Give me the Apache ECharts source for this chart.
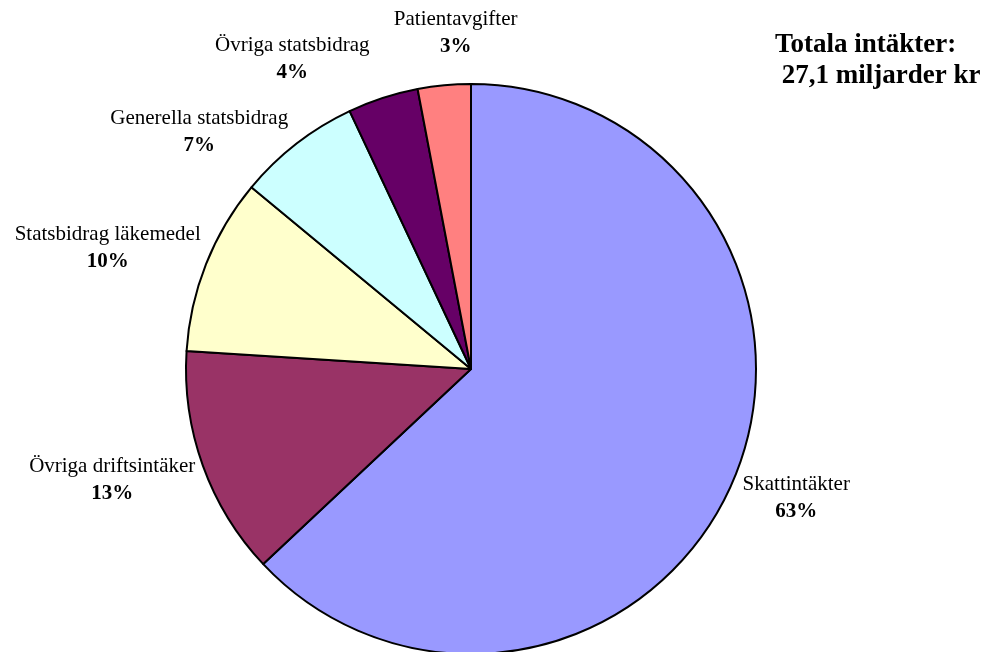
<!DOCTYPE html>
<html>
<head>
<meta charset="utf-8">
<script src="https://cdn.jsdelivr.net/npm/echarts@6/dist/echarts.min.js"></script>
<style>
  html, body { margin: 0; padding: 0; background: #fff; }
  #main { width: 984px; height: 652px; }
</style>
</head>
<body>
<div id="main"></div>
<script>
// intäkter, andel i procent (medurs från kl. 12)
const categories = ['Skattintäkter', 'Övriga driftsintäker', 'Statsbidrag läkemedel',
    'Generella statsbidrag', 'Övriga statsbidrag', 'Patientavgifter'];
const shares = [63, 13, 10, 7, 4, 3];
const colors = ['#9999FF', '#993366', '#FFFFCC', '#CCFFFF', '#660066', '#FF8080'];
// avstånd från cirkeln till etiketten, plus små justeringar
const labelGap = [12, 8, 10, 15, 40, 48];
const labelNudge = [[-6, 11], [5, 12], [9, -12], [6, 0], [4, -1], [21, -4]];

const font = '"Liberation Serif", "Times New Roman", serif';

const chart = echarts.init(document.getElementById('main'));
chart.setOption({
    animation: false,
    title: {
        text: 'Totala intäkter:\n 27,1 miljarder kr',
        left: 770,
        top: 25,
        textStyle: {
            fontFamily: font,
            fontSize: 27,
            fontWeight: 'bold',
            color: '#000',
            lineHeight: 31
        }
    },
    series: [{
        type: 'pie',
        center: [471, 369],
        radius: 285,
        startAngle: 90,
        clockwise: true,
        avoidLabelOverlap: false,
        data: categories.map((c, i) => ({
            name: c,
            value: shares[i],
            itemStyle: {color: colors[i]},
            labelLine: {length: labelGap[i]}
        })),
        itemStyle: {
            borderColor: '#000',
            borderWidth: 2
        },
        label: {
            show: true,
            position: 'outside',
            formatter: (p) => '{a|' + p.name + '}\n{b|' + p.value + '%}',
            rich: {
                a: {fontFamily: font, fontSize: 21, color: '#000', align: 'center', lineHeight: 27},
                b: {fontFamily: font, fontSize: 21, fontWeight: 'bold', color: '#000', align: 'center', lineHeight: 27}
            }
        },
        labelLine: {
            show: false,
            length: 10,
            length2: 0
        },
        labelLayout: function (params) {
            const n = labelNudge[params.dataIndex];
            const out = {dx: n[0], dy: n[1]};
            // den minsta skivan har etiketten centrerad ovanför
            if (params.dataIndex === 5) {
                out.align = 'center';
            }
            return out;
        },
        emphasis: {disabled: true}
    }]
});
window.addEventListener('resize', function () {
    chart.resize();
});
</script>
</body>
</html>
